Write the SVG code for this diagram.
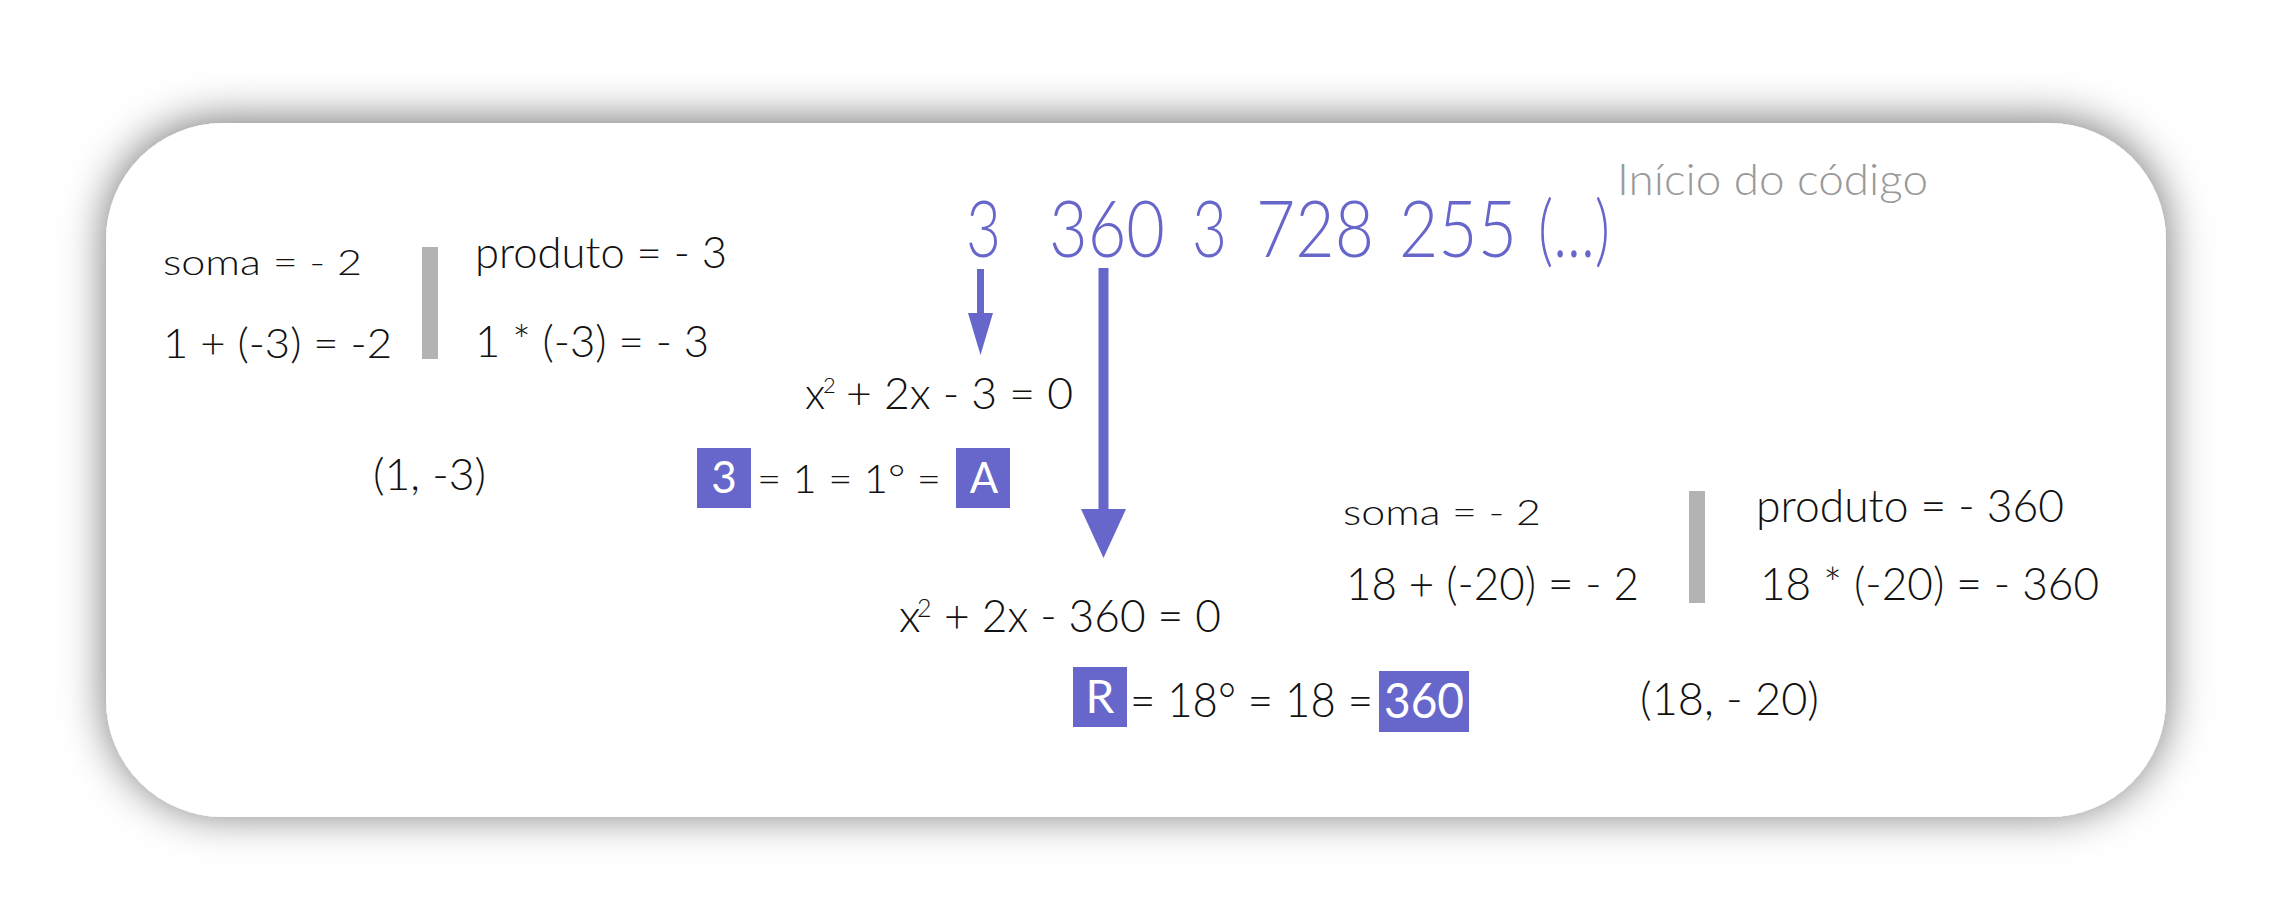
<svg xmlns="http://www.w3.org/2000/svg" width="2279" height="924" viewBox="0 0 2279 924">
<defs>
<filter id="shadow" x="-10%" y="-20%" width="120%" height="140%">
<feDropShadow dx="0" dy="-3" stdDeviation="22" flood-color="#000" flood-opacity="0.55"/>
</filter>
<style>
text{font-family:Lato,"Open Sans","Liberation Sans",sans-serif;font-weight:300;}
.k{fill:#111;}
.b{fill:#6767CB;}
.w{fill:#fff;font-weight:400;}
.g{fill:#999;}
.bar{fill:#b3b3b3;}
.box{fill:#6767CB;}
.shaft{stroke:#6767CB;fill:none;}
.head{fill:#6767CB;}
</style>
</defs>
<rect width="2279" height="924" fill="#fff"/>
<rect id="card" x="106" y="123" width="2060" height="694" rx="117" ry="117" fill="#fff" filter="url(#shadow)"/>

<g id="left-block">
<text class="k" x="163" y="275" font-size="36" textLength="199" lengthAdjust="spacingAndGlyphs">soma = - 2</text>
<text class="k" x="163" y="358" font-size="42" textLength="229" lengthAdjust="spacingAndGlyphs">1 + (-3) = -2</text>
<rect class="bar" x="422" y="247" width="16" height="112"/>
<text class="k" x="475" y="268" font-size="43" textLength="252" lengthAdjust="spacingAndGlyphs">produto = - 3</text>
<text class="k" x="475" y="357" font-size="43" textLength="234" lengthAdjust="spacingAndGlyphs">1 * (-3) = - 3</text>
<text class="k" x="373" y="490" font-size="44" textLength="113" lengthAdjust="spacingAndGlyphs">(1, -3)</text>
</g>

<g id="sequence">
<text class="b" y="257" font-size="79"><tspan x="966" textLength="35" lengthAdjust="spacingAndGlyphs">3</tspan><tspan x="1049" textLength="116" lengthAdjust="spacingAndGlyphs">360</tspan><tspan x="1192" textLength="35" lengthAdjust="spacingAndGlyphs">3</tspan><tspan x="1256" textLength="118" lengthAdjust="spacingAndGlyphs">728</tspan><tspan x="1399" textLength="118" lengthAdjust="spacingAndGlyphs">255</tspan><tspan x="1538" textLength="72" lengthAdjust="spacingAndGlyphs">(...)</tspan></text>
<text class="g" x="1617" y="195" font-size="44" textLength="311" lengthAdjust="spacingAndGlyphs">Início do código</text>
</g>

<g id="eq1">
<text class="k" y="409" font-size="43"><tspan x="805">x</tspan><tspan x="823" dy="-16" font-size="22">2</tspan><tspan x="846" dy="16" textLength="227" lengthAdjust="spacingAndGlyphs">+ 2x - 3 = 0</tspan></text>
</g>

<g id="row-a">
<rect class="box" x="697" y="448" width="54" height="60"/>
<text class="w" x="724" y="493" font-size="44" text-anchor="middle">3</text>
<text class="k" x="757" y="493" font-size="40" textLength="184" lengthAdjust="spacingAndGlyphs">= 1 = 1° =</text>
<rect class="box" x="956" y="448" width="54" height="60"/>
<text class="w" x="984" y="493" font-size="42" text-anchor="middle">A</text>
</g>

<g id="eq2">
<text class="k" y="632" font-size="46"><tspan x="899">x</tspan><tspan x="917" dy="-15" font-size="25">2</tspan><tspan x="944" dy="15" textLength="277" lengthAdjust="spacingAndGlyphs">+ 2x - 360 = 0</tspan></text>
</g>

<g id="row-r">
<rect class="box" x="1073" y="667" width="54" height="60"/>
<text class="w" x="1100" y="713" font-size="46" text-anchor="middle">R</text>
<text class="k" x="1130" y="717" font-size="48" textLength="243" lengthAdjust="spacingAndGlyphs">= 18° = 18 =</text>
<rect class="box" x="1379" y="671" width="90" height="61"/>
<text class="w" x="1384" y="718" font-size="48" textLength="80" lengthAdjust="spacingAndGlyphs">360</text>
</g>

<g id="right-block">
<text class="k" x="1343" y="525" font-size="36" textLength="198" lengthAdjust="spacingAndGlyphs">soma = - 2</text>
<text class="k" x="1346" y="600" font-size="46" textLength="293" lengthAdjust="spacingAndGlyphs">18 + (-20) = - 2</text>
<rect class="bar" x="1689" y="491" width="16" height="112"/>
<text class="k" x="1756" y="522" font-size="45" textLength="308" lengthAdjust="spacingAndGlyphs">produto = - 360</text>
<text class="k" x="1760" y="600" font-size="46" textLength="339" lengthAdjust="spacingAndGlyphs">18 * (-20) = - 360</text>
<text class="k" x="1640" y="715" font-size="46" textLength="179" lengthAdjust="spacingAndGlyphs">(18, - 20)</text>
</g>

<g id="connectors">
<line class="shaft" x1="980.5" y1="269" x2="980.5" y2="315" stroke-width="7"/>
<polygon class="head" points="968,313 993,313 980.5,355"/>
<line class="shaft" x1="1103.5" y1="268" x2="1103.5" y2="511" stroke-width="10"/>
<polygon class="head" points="1081,509 1126,509 1103.5,558"/>
</g>
</svg>
